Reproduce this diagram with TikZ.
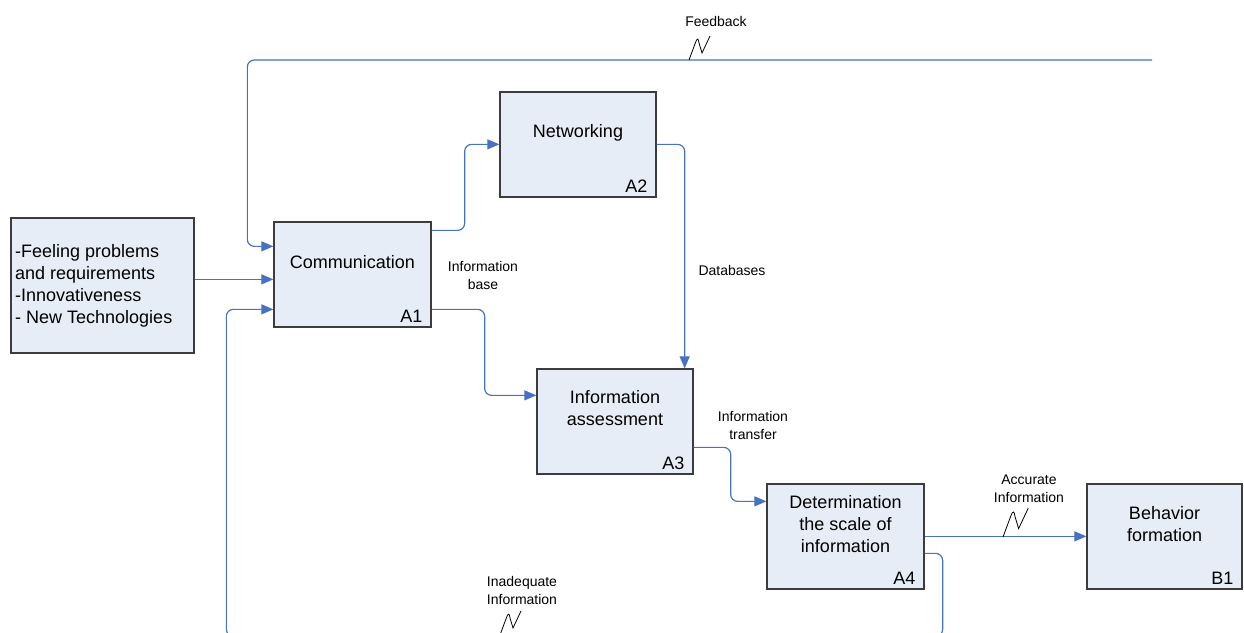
\documentclass[tikz,border=0pt]{standalone}
\usepackage{fontspec}
\setmainfont{Liberation Sans}
\usetikzlibrary{arrows.meta,calc}
\definecolor{boxfill}{RGB}{231,237,247}
\definecolor{boxline}{RGB}{60,60,60}
\definecolor{flowblue}{RGB}{70,114,192}
\begin{document}
\begin{tikzpicture}[x=1pt,y=-1pt,
  box/.style={draw=boxline,fill=boxfill,line width=1.3pt,inner sep=0pt},
  title/.style={font=\fontsize{18}{22}\selectfont,align=center,inner sep=0pt},
  code/.style={font=\fontsize{18}{22}\selectfont,inner sep=0pt,anchor=south east},
  note/.style={font=\fontsize{14}{18}\selectfont,align=center,inner sep=0pt},
  flow/.style={draw=flowblue,line width=1.2pt,rounded corners=7pt,-{Triangle[length=12pt,width=10pt]}},
  zig/.style={draw=black,line width=0.8pt},
  zigzag/.pic={\draw[zig] (0,0) -- (6.5,-17.5) .. controls (8,-22) and (9.5,-22) .. (10,-17) -- (13,-7) -- (21,-24);}]
\useasboundingbox (0,0) rectangle (1244,632);

% activity boxes
\node[box,minimum width=183pt,minimum height=135pt] (in) at (102.5,285.5) {};
\node[box,minimum width=157pt,minimum height=105pt] (a1) at (352.5,274.5) {};
\node[box,minimum width=156pt,minimum height=105pt] (a2) at (578,144.5) {};
\node[box,minimum width=156pt,minimum height=105pt] (a3) at (615,421.5) {};
\node[box,minimum width=157pt,minimum height=105pt] (a4) at (845.5,536.5) {};
\node[box,minimum width=155pt,minimum height=105pt] (b1) at (1164.5,536.5) {};

% box texts
\node[font=\fontsize{18}{22}\selectfont,align=left,inner sep=0pt,anchor=west] (intext) at (15,285.5)
  {-Feeling problems\\and requirements\\-Innovativeness\\- New Technologies};
\node[title] (t1) at ($(a1.north)+(0,41)$) {Communication};
\node[title] (t2) at ($(a2.north)+(0,41)$) {Networking};
\node[title] (t3) at ($(a3.north)+(0,40)$) {Information\\assessment};
\node[title] (t4) at ($(a4.north)+(0,41)$) {Determination\\the scale of\\information};
\node[title] (t5) at ($(b1.north)+(0,41)$) {Behavior\\formation};
\node[code] (c1) at ($(a1.south east)+(-9,-5)$) {A1};
\node[code] (c2) at ($(a2.south east)+(-9,-5)$) {A2};
\node[code] (c3) at ($(a3.south east)+(-9,-5)$) {A3};
\node[code] (c4) at ($(a4.south east)+(-9,-5)$) {A4};
\node[code] (c5) at ($(b1.south east)+(-9,-5)$) {B1};

% ports
\coordinate (a1in1) at ($(a1.north west)+(0,25)$);
\coordinate (a1in2) at ($(a1.north west)+(0,58)$);
\coordinate (a1in3) at ($(a1.north west)+(0,88)$);
\coordinate (a1o1) at ($(a1.north east)+(0,9)$);
\coordinate (a1o2) at ($(a1.north east)+(0,88)$);
\coordinate (a2in) at ($(a2.north west)+(0,53)$);
\coordinate (a2o) at ($(a2.north east)+(0,53)$);
\coordinate (a3in) at ($(a3.north west)+(0,27)$);
\coordinate (a3top) at ($(a3.north east)+(-9,0)$);
\coordinate (a3o) at ($(a3.north east)+(0,79)$);
\coordinate (a4in) at ($(a4.north west)+(0,18)$);
\coordinate (a4o1) at ($(a4.north east)+(0,53)$);
\coordinate (a4o2) at ($(a4.north east)+(0,70)$);
\coordinate (fb) at (1152,60);

% connectors
\draw[flow] (fb) -| ($(a1in1)+(-26,0)$) -- (a1in1);
\draw[flow] (in.east |- a1in2) -- (a1in2);
\draw[flow] (a4o2) -| ($(a4o2)+(18,83)$) -| ($(a1in3)+(-47,0)$) -- (a1in3);
\draw[flow] (a1o1) -- ++(33,0) |- (a2in);
\draw[flow] (a1o2) -- ++(53,0) |- (a3in);
\draw[flow] (a2o) -| (a3top);
\draw[flow] (a3o) -- ++(37,0) |- (a4in);
\draw[flow] (a4o1) -- (b1.west |- a4o1);

% tunnel marks
\pic at (689,60) {zigzag};
\pic[scale=1.2] at (1003,537) {zigzag};
\pic at (500,635) {zigzag};

% arrow labels
\node[note] (lfb) at (716,21) {Feedback};
\node[note] (lib) at (483,275) {Information\\base};
\node[note] (ldb) at (732,270) {Databases};
\node[note] (lit) at (753,425) {Information\\transfer};
\node[note] (lai) at (1029,489) {Accurate\\Information};
\node[note] (lii) at (522,590) {Inadequate\\Information};
\end{tikzpicture}
\end{document}
